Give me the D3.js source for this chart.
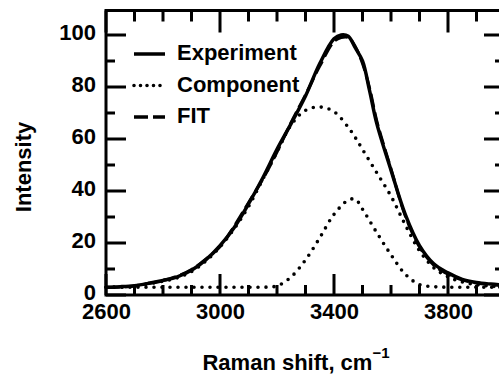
<!DOCTYPE html>
<html>
<head>
<meta charset="utf-8">
<script src="https://cdn.jsdelivr.net/npm/d3@7"></script>
<style>
  body { margin: 0; background: #fff; }
  svg { display: block; }
  text { font-family: "Liberation Sans", Arial, sans-serif; font-weight: bold; fill: #000; }
</style>
</head>
<body>
<svg class="chart" width="499" height="375"></svg>
<script>
// Raman shift (cm-1) vs intensity
const expShift = [2600, 2650, 2700, 2750, 2800, 2850, 2900, 2950, 3000, 3050, 3100, 3150, 3200, 3250, 3300, 3350, 3400, 3425, 3450, 3475, 3500, 3525, 3550, 3600, 3650, 3700, 3750, 3800, 3850, 3900, 3950, 4000]
const expIntensity = [3.0, 3.2, 3.6, 4.5, 5.6, 7.0, 9.5, 13.5, 19, 26, 35, 45, 56, 66, 76.5, 89, 98.5, 100, 99.5, 95, 90, 78.5, 66, 48, 31, 19, 12, 8.5, 6, 4.8, 4.2, 3.8]
const fitIntensity = [3.0, 3.1, 3.5, 4.5, 5.6, 7.2, 9.8, 13.8, 18.6, 26.5, 35.5, 44.5, 55, 66.5, 77, 88, 97.5, 99, 99, 95.5, 89, 79.5, 67, 48.5, 30.5, 18.5, 11.5, 8, 5.8, 4.6, 4.0, 3.6]

const compShift = [2600, 2650, 2700, 2750, 2800, 2850, 2900, 2950, 3000, 3050, 3100, 3150, 3200, 3250, 3300, 3350, 3400, 3450, 3475, 3500, 3550, 3600, 3650, 3700, 3750, 3800, 3850, 3900, 3950, 4000]
const comp1 = [3.0, 3.1, 3.4, 4.3, 5.3, 6.6, 9, 13, 18.5, 25.5, 34, 44.5, 55, 65.5, 71, 72.3, 70.5, 64.5, 60.5, 56, 47, 38, 27, 17, 10.5, 7, 5, 4, 3.4, 3.2]
const comp2 = [3.0, 3.0, 3.0, 3.0, 3.0, 3.0, 3.0, 3.0, 3.0, 3.0, 3.0, 3.0, 3.5, 7, 13.5, 22, 31, 36.5, 36.8, 33, 24, 15.5, 8, 4, 3.2, 3.0, 3.0, 3.0, 3.0, 3.0]

const xMajor = [2600, 3000, 3400, 3800]
const xMinor = [2700, 2800, 2900, 3100, 3200, 3300, 3500, 3600, 3700, 3900]
const yMajor = [0, 20, 40, 60, 80, 100]
const yMinor = [10, 30, 50, 70, 90]

const legendNames = ['Experiment', 'Component', 'FIT']

const plotLeft = 106
const plotRight = 505
const plotTop = 10.5
const plotBottom = 295

const x = d3.scaleLinear().domain([2600, 4000]).range([plotLeft, plotRight])
const y = d3.scaleLinear().domain([0, 109.4]).range([plotBottom, plotTop])

const chart = d3.select('.chart')

// tick labels through d3 axes
chart.append('g').attr('transform', `translate(0,${plotBottom})`)
  .call(d3.axisBottom(x).tickValues(xMajor).tickSize(0).tickPadding(8).tickFormat(d3.format('d')))
  .call(g => g.select('.domain').remove())
  .call(g => g.selectAll('text').style('font-size', '22px'))

chart.append('g').attr('transform', `translate(${plotLeft},0)`)
  .call(d3.axisLeft(y).tickValues(yMajor).tickSize(0).tickPadding(10))
  .call(g => g.select('.domain').remove())
  .call(g => g.selectAll('text').style('font-size', '22px').attr('dy', '0.2em'))

// frame
chart.append('rect')
  .attr('x', plotLeft).attr('y', plotTop)
  .attr('width', plotRight - plotLeft).attr('height', plotBottom - plotTop)
  .attr('fill', 'none').attr('stroke', '#000').attr('stroke-width', 3)

const line = (xs) => d3.line()
  .x((d, i) => x(xs[i]))
  .y(d => y(d))
  .curve(d3.curveCatmullRom)

const dotted = { dash: '0,8', width: 3.6, cap: 'round' }

chart.append('path').datum(comp1)
  .attr('d', line(compShift))
  .attr('fill', 'none').attr('stroke', '#000')
  .attr('stroke-width', dotted.width).attr('stroke-dasharray', dotted.dash).attr('stroke-linecap', dotted.cap)

chart.append('path').datum(comp2)
  .attr('d', line(compShift))
  .attr('fill', 'none').attr('stroke', '#000')
  .attr('stroke-width', dotted.width).attr('stroke-dasharray', dotted.dash).attr('stroke-linecap', dotted.cap)

chart.append('path').datum(fitIntensity)
  .attr('d', line(expShift))
  .attr('fill', 'none').attr('stroke', '#000')
  .attr('stroke-width', 3).attr('stroke-dasharray', '14,5')

chart.append('path').datum(expIntensity)
  .attr('d', line(expShift))
  .attr('fill', 'none').attr('stroke', '#000')
  .attr('stroke-width', 3.5).attr('stroke-linejoin', 'round')

// legend
const legendY = d3.scalePoint().domain(legendNames).range([60, 123])
const legend = chart.append('g').selectAll('g')
  .data(legendNames)
  .enter()
  .append('g')
  .attr('transform', d => `translate(0,${legendY(d)})`)

legend.append('line')
  .attr('x1', 134).attr('x2', 165)
  .attr('y1', -6).attr('y2', -6)
  .attr('stroke', '#000')
  .attr('stroke-width', d => d === 'Component' ? dotted.width : 3.5)
  .attr('stroke-dasharray', d => d === 'Component' ? '0,6.5' : (d === 'FIT' ? '14,5' : null))
  .attr('stroke-linecap', d => d === 'Component' ? 'round' : 'butt')

legend.append('text')
  .attr('x', 177)
  .style('font-size', '22px')
  .text(d => d)

// axis titles
const xTitle = chart.append('text')
  .attr('x', 296).attr('y', 370)
  .attr('text-anchor', 'middle')
  .style('font-size', '22px')
xTitle.append('tspan').text('Raman shift, cm')
xTitle.append('tspan').attr('dy', -12).style('font-size', '15px').text('−1')

chart.append('text')
  .attr('transform', 'translate(31,167) rotate(-90)')
  .attr('text-anchor', 'middle')
  .style('font-size', '22px')
  .text('Intensity')

// inward tick marks on all four sides, drawn last as one path
const tickPath = d3.path()
const addX = (values, len) => values.forEach(v => {
  tickPath.moveTo(x(v), plotBottom); tickPath.lineTo(x(v), plotBottom - len)
  tickPath.moveTo(x(v), plotTop); tickPath.lineTo(x(v), plotTop + len + 1)
})
const addY = (values, len) => values.forEach(v => {
  tickPath.moveTo(plotLeft, y(v)); tickPath.lineTo(plotLeft + len, y(v))
  tickPath.moveTo(plotRight, y(v)); tickPath.lineTo(plotRight - len - 1, y(v))
})
addX(xMinor, 10)
addX(xMajor, 21)
addY(yMinor, 9)
addY(yMajor, 20)
chart.append('path')
  .attr('class', 'tick-marks')
  .attr('d', tickPath.toString())
  .attr('fill', 'none').attr('stroke', '#000').attr('stroke-width', 3)
</script>
</body>
</html>
